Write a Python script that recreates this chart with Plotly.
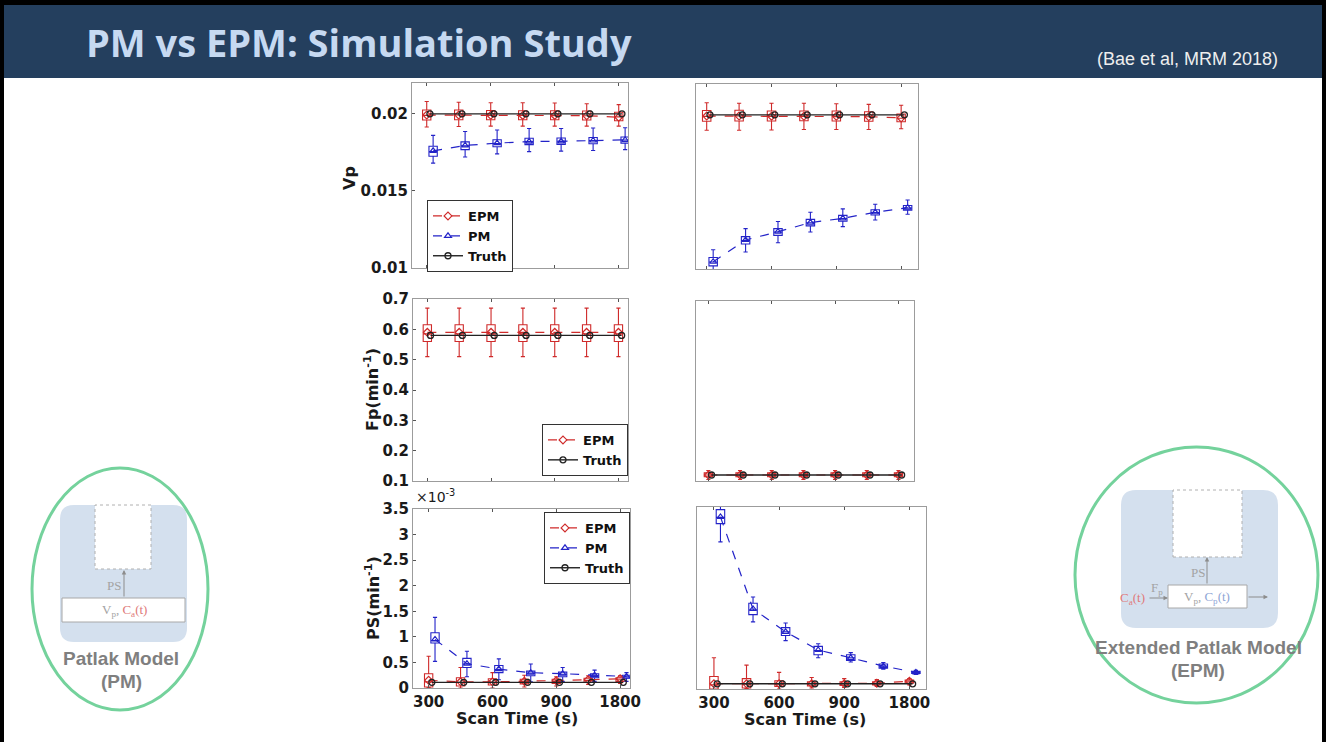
import plotly.graph_objects as go
import numpy as np

W, H = 1326, 742
def X(p): return p / W
def Y(p): return 1 - p / H

# ---------------- data ----------------
positions = [1, 2, 3, 4, 5, 6, 7]
tick_positions = [1, 3, 5, 7]
scan_time_labels = ["300", "600", "900", "1800"]

# Vp, left simulation
vpL_epm_q1 = [0.01960, 0.01962, 0.01962, 0.01962, 0.01962, 0.01960, 0.01955]
vpL_epm_med = [0.01990, 0.01992, 0.01990, 0.01990, 0.01990, 0.01988, 0.01980]
vpL_epm_q3 = [0.02025, 0.02025, 0.02022, 0.02020, 0.02020, 0.02018, 0.02010]
vpL_epm_lo = [0.01915, 0.01918, 0.01920, 0.01920, 0.01920, 0.01920, 0.01920]
vpL_epm_hi = [0.02080, 0.02075, 0.02072, 0.02072, 0.02070, 0.02065, 0.02060]
vpL_epm_mean = [0.01992, 0.01992, 0.01991, 0.01990, 0.01990, 0.01988, 0.01978]
vpL_pm_q1 = [0.01725, 0.01768, 0.01786, 0.01800, 0.01802, 0.01806, 0.01810]
vpL_pm_med = [0.01755, 0.01792, 0.01808, 0.01820, 0.01822, 0.01826, 0.01830]
vpL_pm_q3 = [0.01790, 0.01818, 0.01832, 0.01842, 0.01843, 0.01846, 0.01850]
vpL_pm_lo = [0.01680, 0.01720, 0.01740, 0.01755, 0.01758, 0.01762, 0.01768]
vpL_pm_hi = [0.01860, 0.01885, 0.01895, 0.01905, 0.01905, 0.01908, 0.01910]
vpL_pm_mean = [0.01760, 0.01795, 0.01810, 0.01820, 0.01822, 0.01827, 0.01831]
vpL_truth = [0.02, 0.02, 0.02, 0.02, 0.02, 0.02, 0.02]

# Vp, right simulation
vpR_epm_q1 = [0.01958, 0.01960, 0.01960, 0.01962, 0.01960, 0.01958, 0.01955]
vpR_epm_med = [0.01990, 0.01992, 0.01990, 0.01990, 0.01990, 0.01988, 0.01978]
vpR_epm_q3 = [0.02028, 0.02030, 0.02025, 0.02025, 0.02025, 0.02020, 0.02005]
vpR_epm_lo = [0.01900, 0.01900, 0.01902, 0.01905, 0.01905, 0.01905, 0.01910]
vpR_epm_hi = [0.02078, 0.02075, 0.02075, 0.02075, 0.02072, 0.02068, 0.02062]
vpR_epm_mean = [0.01992, 0.01992, 0.01991, 0.01990, 0.01990, 0.01988, 0.01980]
vpR_pm_q1 = [0.01020, 0.01162, 0.01218, 0.01280, 0.01310, 0.01350, 0.01382]
vpR_pm_med = [0.01045, 0.01185, 0.01240, 0.01300, 0.01328, 0.01366, 0.01396]
vpR_pm_q3 = [0.01075, 0.01210, 0.01262, 0.01322, 0.01348, 0.01384, 0.01412]
vpR_pm_lo = [0.00975, 0.01110, 0.01170, 0.01240, 0.01275, 0.01318, 0.01355]
vpR_pm_hi = [0.01125, 0.01262, 0.01308, 0.01368, 0.01390, 0.01420, 0.01448]
vpR_pm_mean = [0.01047, 0.01188, 0.01242, 0.01301, 0.01329, 0.01368, 0.01398]
vpR_truth = [0.02, 0.02, 0.02, 0.02, 0.02, 0.02, 0.02]

# Fp
fpL_epm_q1 = [0.560, 0.560, 0.560, 0.560, 0.560, 0.560, 0.560]
fpL_epm_med = [0.585, 0.585, 0.585, 0.585, 0.585, 0.585, 0.585]
fpL_epm_q3 = [0.615, 0.615, 0.615, 0.615, 0.615, 0.615, 0.615]
fpL_epm_lo = [0.510, 0.510, 0.510, 0.510, 0.510, 0.510, 0.510]
fpL_epm_hi = [0.670, 0.670, 0.670, 0.670, 0.670, 0.670, 0.670]
fpL_epm_mean = [0.590, 0.590, 0.590, 0.590, 0.590, 0.590, 0.590]
fpL_truth = [0.58, 0.58, 0.58, 0.58, 0.58, 0.58, 0.58]

fpR_epm_q1 = [0.114, 0.114, 0.114, 0.114, 0.114, 0.114, 0.114]
fpR_epm_med = [0.120, 0.120, 0.120, 0.120, 0.120, 0.120, 0.120]
fpR_epm_q3 = [0.127, 0.127, 0.127, 0.127, 0.127, 0.127, 0.127]
fpR_epm_lo = [0.105, 0.105, 0.105, 0.105, 0.105, 0.105, 0.105]
fpR_epm_hi = [0.135, 0.135, 0.135, 0.135, 0.135, 0.135, 0.135]
fpR_epm_mean = [0.120, 0.120, 0.120, 0.120, 0.120, 0.120, 0.120]
fpR_truth = [0.12, 0.12, 0.12, 0.12, 0.12, 0.12, 0.12]

# PS (x 10^-3 min^-1)
psL_epm_q1 = [0.02, 0.04, 0.06, 0.08, 0.09, 0.11, 0.13]
psL_epm_med = [0.12, 0.11, 0.11, 0.12, 0.13, 0.15, 0.17]
psL_epm_q3 = [0.28, 0.20, 0.18, 0.17, 0.17, 0.19, 0.20]
psL_epm_lo = [0.00, 0.00, 0.00, 0.02, 0.04, 0.07, 0.09]
psL_epm_hi = [0.62, 0.40, 0.30, 0.25, 0.22, 0.24, 0.24]
psL_epm_mean = [0.15, 0.12, 0.12, 0.13, 0.14, 0.16, 0.18]
psL_pm_q1 = [0.88, 0.40, 0.30, 0.24, 0.22, 0.20, 0.19]
psL_pm_med = [0.93, 0.47, 0.36, 0.29, 0.27, 0.24, 0.22]
psL_pm_q3 = [1.08, 0.58, 0.44, 0.33, 0.31, 0.28, 0.25]
psL_pm_lo = [0.52, 0.22, 0.16, 0.12, 0.13, 0.13, 0.13]
psL_pm_hi = [1.38, 0.72, 0.57, 0.47, 0.40, 0.35, 0.30]
psL_pm_mean = [0.95, 0.475, 0.37, 0.30, 0.28, 0.25, 0.225]
psL_truth = [0.11, 0.11, 0.11, 0.11, 0.11, 0.11, 0.11]

psR_epm_q1 = [0.00, 0.02, 0.05, 0.06, 0.07, 0.08, 0.11]
psR_epm_med = [0.08, 0.09, 0.09, 0.10, 0.10, 0.11, 0.14]
psR_epm_q3 = [0.24, 0.20, 0.16, 0.14, 0.14, 0.14, 0.17]
psR_epm_lo = [0.00, 0.00, 0.00, 0.02, 0.03, 0.05, 0.08]
psR_epm_hi = [0.60, 0.46, 0.32, 0.22, 0.20, 0.18, 0.20]
psR_epm_mean = [0.10, 0.10, 0.10, 0.10, 0.10, 0.11, 0.15]
psR_pm_q1 = [3.18, 1.43, 1.03, 0.66, 0.55, 0.40, 0.30]
psR_pm_med = [3.30, 1.52, 1.10, 0.74, 0.60, 0.44, 0.32]
psR_pm_q3 = [3.45, 1.65, 1.18, 0.82, 0.66, 0.48, 0.34]
psR_pm_lo = [2.83, 1.29, 0.93, 0.60, 0.52, 0.38, 0.28]
psR_pm_hi = [3.60, 1.77, 1.27, 0.87, 0.70, 0.51, 0.36]
psR_pm_mean = [3.31, 1.54, 1.10, 0.75, 0.60, 0.44, 0.32]
psR_truth = [0.10, 0.10, 0.10, 0.10, 0.10, 0.10, 0.10]

# ---------------- style ----------------
RED = "#cf2a2a"
BLUE = "#2323c8"
BLACK = "#222222"
PM_SHIFT = 0.2
TRUTH_SHIFT = 0.1
pos = np.array(positions, dtype=float)

fig = go.Figure()

def add_panel(ax, epm, pm, truth, legend=None):
    xa, ya = ("x" + ax, "y" + ax)
    q1, med, q3, lo, hi, mean = epm
    fig.add_trace(go.Box(x=pos, q1=q1, median=med, q3=q3, lowerfence=lo, upperfence=hi,
                         xaxis=xa, yaxis=ya, width=0.26, whiskerwidth=0.5,
                         line=dict(color=RED, width=1.1), fillcolor="rgba(255,255,255,0)",
                         boxpoints=False, showlegend=False, hoverinfo="skip"))
    if pm is not None:
        pq1, pmed, pq3, plo, phi, pmean = pm
        fig.add_trace(go.Box(x=pos + PM_SHIFT, q1=pq1, median=pmed, q3=pq3, lowerfence=plo,
                             upperfence=phi, xaxis=xa, yaxis=ya, width=0.26, whiskerwidth=0.5,
                             line=dict(color=BLUE, width=1.1), fillcolor="rgba(255,255,255,0)",
                             boxpoints=False, showlegend=False, hoverinfo="skip"))
    show = legend is not None
    lg = legend if legend else "legend"
    fig.add_trace(go.Scatter(x=pos, y=mean, mode="lines+markers", name="EPM",
                             xaxis=xa, yaxis=ya, legend=lg, showlegend=show,
                             line=dict(color=RED, dash="dash", width=1.2),
                             marker=dict(symbol="diamond-open", size=6, color=RED, line=dict(width=1.2))))
    if pm is not None:
        fig.add_trace(go.Scatter(x=pos + PM_SHIFT, y=pmean, mode="lines+markers", name="PM",
                                 xaxis=xa, yaxis=ya, legend=lg, showlegend=show,
                                 line=dict(color=BLUE, dash="dash", width=1.2),
                                 marker=dict(symbol="triangle-up-open", size=6, color=BLUE, line=dict(width=1.2))))
    fig.add_trace(go.Scatter(x=pos + TRUTH_SHIFT, y=truth, mode="lines+markers", name="Truth",
                             xaxis=xa, yaxis=ya, legend=lg, showlegend=show,
                             line=dict(color=BLACK, width=1.4),
                             marker=dict(symbol="circle-open", size=6, color=BLACK, line=dict(width=1.3))))

add_panel("", (vpL_epm_q1, vpL_epm_med, vpL_epm_q3, vpL_epm_lo, vpL_epm_hi, vpL_epm_mean),
          (vpL_pm_q1, vpL_pm_med, vpL_pm_q3, vpL_pm_lo, vpL_pm_hi, vpL_pm_mean), vpL_truth, legend="legend")
add_panel("2", (vpR_epm_q1, vpR_epm_med, vpR_epm_q3, vpR_epm_lo, vpR_epm_hi, vpR_epm_mean),
          (vpR_pm_q1, vpR_pm_med, vpR_pm_q3, vpR_pm_lo, vpR_pm_hi, vpR_pm_mean), vpR_truth)
add_panel("3", (fpL_epm_q1, fpL_epm_med, fpL_epm_q3, fpL_epm_lo, fpL_epm_hi, fpL_epm_mean),
          None, fpL_truth, legend="legend2")
add_panel("4", (fpR_epm_q1, fpR_epm_med, fpR_epm_q3, fpR_epm_lo, fpR_epm_hi, fpR_epm_mean),
          None, fpR_truth)
add_panel("5", (psL_epm_q1, psL_epm_med, psL_epm_q3, psL_epm_lo, psL_epm_hi, psL_epm_mean),
          (psL_pm_q1, psL_pm_med, psL_pm_q3, psL_pm_lo, psL_pm_hi, psL_pm_mean), psL_truth, legend="legend3")
add_panel("6", (psR_epm_q1, psR_epm_med, psR_epm_q3, psR_epm_lo, psR_epm_hi, psR_epm_mean),
          (psR_pm_q1, psR_pm_med, psR_pm_q3, psR_pm_lo, psR_pm_hi, psR_pm_mean), psR_truth)

TICKFONT = dict(family="DejaVu Sans", size=15, color="#1a1a1a", weight="bold")

vp_ticks = [0.01, 0.015, 0.02]
vp_ticktext = ["0.01", "0.015", "0.02"]
fp_ticks = [0.1, 0.2, 0.3, 0.4, 0.5, 0.6, 0.7]
fp_ticktext = ["0.1", "0.2", "0.3", "0.4", "0.5", "0.6", "0.7"]
ps_ticks = [0, 0.5, 1, 1.5, 2, 2.5, 3, 3.5]
ps_ticktext = ["0", "0.5", "1", "1.5", "2", "2.5", "3", "3.5"]

panels = [
    ("", (412, 628), (83, 268), [0.54, 7.29], [0.01, 0.022], False, True, vp_ticks, vp_ticktext),
    ("2", (696, 918), (84, 269), [0.67, 7.52], [0.01, 0.022], False, False, vp_ticks, vp_ticktext),
    ("3", (413, 628), (299, 481), [0.55, 7.30], [0.1, 0.7], False, True, fp_ticks, fp_ticktext),
    ("4", (696, 914), (301, 481), [0.61, 7.49], [0.1, 0.7], False, False, fp_ticks, fp_ticktext),
    ("5", (413, 630), (509, 688), [0.51, 7.31], [0, 3.5], True, True, ps_ticks, ps_ticktext),
    ("6", (697, 926), (507, 689), [0.48, 7.51], [0, 3.5], True, False, ps_ticks, ps_ticktext),
]
layout_axes = {}
for suf, xp, yp, xr, yr, xl, yl, yt, ytt in panels:
    layout_axes["xaxis" + suf] = dict(
        domain=[X(xp[0]), X(xp[1])], range=xr, anchor="y" + suf,
        tickvals=tick_positions, ticktext=scan_time_labels, showticklabels=xl,
        ticks="inside", ticklen=3, tickcolor="#555", showline=True, linecolor="#9c9c9c",
        linewidth=1, mirror="ticks", showgrid=False, zeroline=False, tickfont=TICKFONT,
        automargin=False)
    layout_axes["yaxis" + suf] = dict(
        domain=[Y(yp[1]), Y(yp[0])], range=yr, anchor="x" + suf,
        tickvals=yt, ticktext=ytt, showticklabels=yl,
        ticks="inside" if yl else "", ticklen=3, tickcolor="#555", showline=True,
        linecolor="#9c9c9c", linewidth=1, mirror=True, showgrid=False, zeroline=False,
        tickfont=TICKFONT, automargin=False)

LEGFONT = dict(family="DejaVu Sans", size=13, color="#111", weight="bold")
legend_common = dict(bgcolor="white", bordercolor="#333", borderwidth=1, font=LEGFONT,
                     tracegroupgap=0, itemwidth=30, xref="paper", yref="paper")

# ---------------- slide decoration ----------------
shapes = []
annotations = []
shapes.append(dict(type="rect", xref="paper", yref="paper", x0=0, x1=1, y0=Y(78), y1=1,
                   fillcolor="#243f5e", line=dict(width=0), layer="below"))
shapes.append(dict(type="rect", xref="paper", yref="paper", x0=0, x1=1, y0=Y(5), y1=1,
                   fillcolor="#000000", line=dict(width=0), layer="below"))
shapes.append(dict(type="rect", xref="paper", yref="paper", x0=0, x1=X(4), y0=0, y1=1,
                   fillcolor="#000000", line=dict(width=0), layer="below"))
shapes.append(dict(type="rect", xref="paper", yref="paper", x0=X(1322), x1=1, y0=0, y1=1,
                   fillcolor="#000000", line=dict(width=0), layer="below"))

def ann(text, x, y, font, xanchor="center", yanchor="middle", **kw):
    d = dict(text=text, xref="paper", yref="paper", x=X(x), y=Y(y), xanchor=xanchor,
             yanchor=yanchor, showarrow=False, font=font)
    d.update(kw)
    annotations.append(d)

ann("PM vs EPM: Simulation Study", 84, 42,
    dict(family="Open Sans", size=38, color="#c6d9f1", weight="bold"), xanchor="left")
ann("(Bae et al, MRM 2018)", 1280, 59, dict(family="Liberation Sans", size=18, color="#eeeeee"),
    xanchor="right")

AXT = dict(family="DejaVu Sans", size=16, color="#1a1a1a", weight="bold")
ann("Vp", 350, 178, AXT, textangle=-90)
ann("Fp(min<sup>-1</sup>)", 372, 390, AXT, textangle=-90)
ann("PS(min<sup>-1</sup>)", 372, 598, AXT, textangle=-90)
ann("Scan Time (s)", 517, 718, AXT)
ann("Scan Time (s)", 805, 719, AXT)
ann("×10<sup>-3</sup>", 414, 496, dict(family="DejaVu Sans", size=14, color="#1a1a1a"), xanchor="left")

def rrect(x0, y0, x1, y1, r):
    return (f"M {X(x0+r)},{Y(y0)} L {X(x1-r)},{Y(y0)} Q {X(x1)},{Y(y0)} {X(x1)},{Y(y0+r)} "
            f"L {X(x1)},{Y(y1-r)} Q {X(x1)},{Y(y1)} {X(x1-r)},{Y(y1)} "
            f"L {X(x0+r)},{Y(y1)} Q {X(x0)},{Y(y1)} {X(x0)},{Y(y1-r)} "
            f"L {X(x0)},{Y(y0+r)} Q {X(x0)},{Y(y0)} {X(x0+r)},{Y(y0)} Z")

def rect(x0, y0, x1, y1, fill, line_color, dash="solid", width=1):
    return dict(type="rect", xref="paper", yref="paper", x0=X(x0), x1=X(x1), y0=Y(y1), y1=Y(y0),
                fillcolor=fill, line=dict(color=line_color, width=width, dash=dash))

def arrow(hx, hy, tx, ty):
    annotations.append(dict(text="", xref="paper", yref="paper", x=X(hx), y=Y(hy),
                            ax=tx - hx, ay=ty - hy, showarrow=True, arrowhead=2, arrowsize=0.9,
                            arrowwidth=1, arrowcolor="#8c8c8c"))

GREEN = "#74d29c"
LBLUE = "#d4e0ee"
GRAYTXT = "#7f7f7f"
SERIF = dict(family="Liberation Serif", size=13, color="#a3a3a3")
LABEL = dict(family="Liberation Sans", size=19, color=GRAYTXT, weight="bold")

# Patlak model diagram (left)
shapes.append(dict(type="path", xref="paper", yref="paper", path=rrect(60, 505, 187, 642, 14),
                   fillcolor=LBLUE, line=dict(width=0)))
shapes.append(rect(95, 505, 151, 569, "white", "#b0b0b0", dash="dot"))
shapes.append(rect(62, 598, 185, 622, "white", "#a8a8a8"))
shapes.append(dict(type="circle", xref="paper", yref="paper", x0=X(32), x1=X(208), y0=Y(710), y1=Y(468),
                   line=dict(color=GREEN, width=3)))
arrow(124, 570, 124, 598)
ann("PS", 114, 585, SERIF)
ann("V<sub>p</sub>, <span style='color:#e07a7a'>C<sub>a</sub>(t)</span>", 124, 610, SERIF)
ann("Patlak Model", 121, 658, LABEL)
ann("(PM)", 121, 681, LABEL)

# Extended Patlak model diagram (right)
shapes.append(dict(type="path", xref="paper", yref="paper", path=rrect(1121, 490, 1278, 628, 15),
                   fillcolor=LBLUE, line=dict(width=0)))
shapes.append(rect(1173, 490, 1242, 557, "white", "#b0b0b0", dash="dot"))
shapes.append(rect(1168, 585, 1247, 608, "white", "#a8a8a8"))
shapes.append(dict(type="circle", xref="paper", yref="paper", x0=X(1075), x1=X(1318), y0=Y(703), y1=Y(447),
                   line=dict(color=GREEN, width=3)))
arrow(1207, 557, 1207, 585)
arrow(1168, 598, 1148, 598)
arrow(1268, 597, 1247, 597)
ann("PS", 1198, 572, SERIF)
ann("<span style='color:#e07a7a'>C<sub>a</sub>(t)</span>", 1147, 598, SERIF, xanchor="right")
ann("F<sub>p</sub>", 1157, 588, SERIF)
ann("V<sub>p</sub>, <span style='color:#8fa6d6'>C<sub>p</sub>(t)</span>", 1207, 597, SERIF)
ann("Extended Patlak Model", 1198, 647, LABEL)
ann("(EPM)", 1198, 670, LABEL)

fig.update_layout(
    width=W, height=H, margin=dict(l=0, r=0, t=0, b=0, pad=0, autoexpand=False),
    paper_bgcolor="white", plot_bgcolor="white",
    boxmode="overlay",
    legend=dict(x=X(427), y=Y(200), xanchor="left", yanchor="top", **legend_common),
    legend2=dict(x=X(628), y=Y(476), xanchor="right", yanchor="bottom", **legend_common),
    legend3=dict(x=X(630), y=Y(512), xanchor="right", yanchor="top", **legend_common),
    shapes=shapes, annotations=annotations,
    **layout_axes,
)

fig.write_html("out.html", config={"displayModeBar": False},
               post_script="document.body.style.margin='0';document.body.style.padding='0';")
